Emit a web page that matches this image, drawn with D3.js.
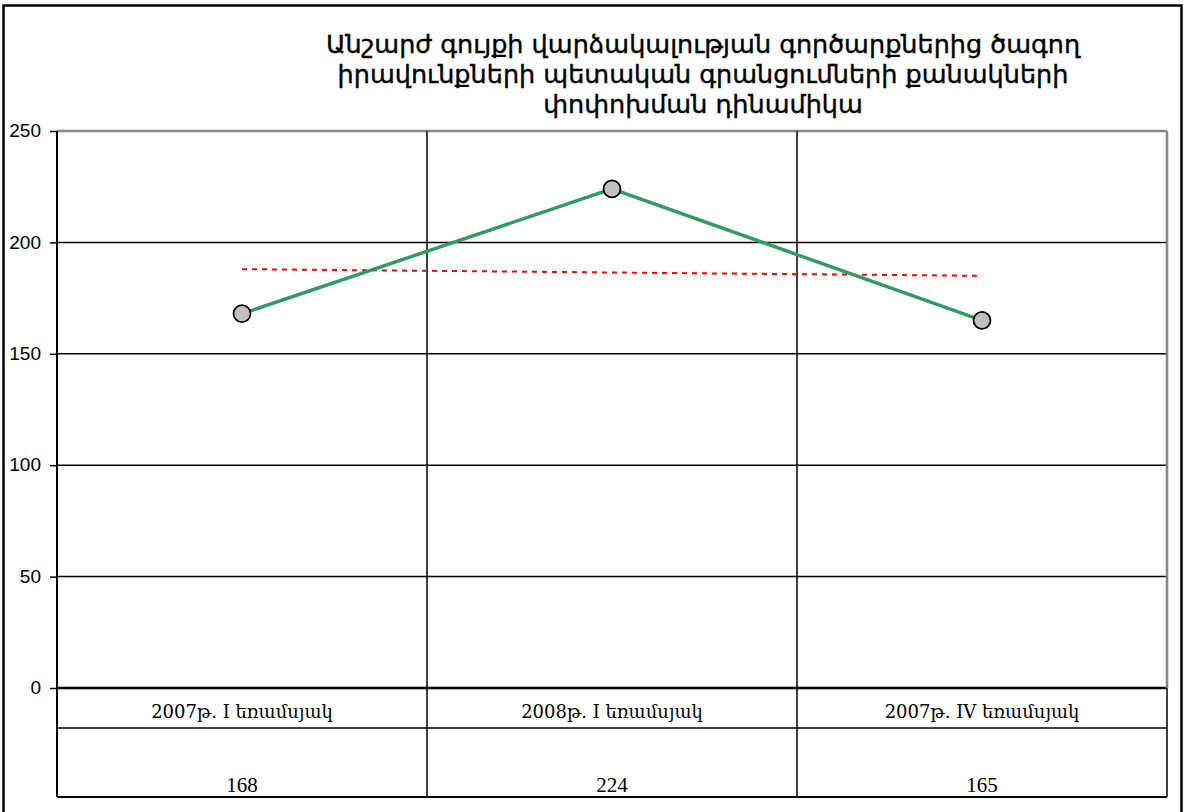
<!DOCTYPE html>
<html><head><meta charset="utf-8">
<script src="https://cdn.jsdelivr.net/npm/d3@7"></script>
<style>body{margin:0;background:#fff}svg{display:block}</style>
</head><body>
<script>
const titleLines = ["Անշարժ գույքի վարձակալության գործարքներից ծագող","իրավունքների պետական գրանցումների քանակների","փոփոխման դինամիկա"];
const categories = ["2007թ. I եռամսյակ","2008թ. I եռամսյակ","2007թ. IV եռամսյակ"];
const values = [168, 224, 165];
const trendValues = [188, 185];
const yTicks = [0, 50, 100, 150, 200, 250];

(function(){
const W = 1184, H = 812;
const svg = d3.select("body").append("svg").attr("width", W).attr("height", H);
const pL = 57, pR = 1167, pT = 131, pB = 688;
const x = d3.scaleBand().domain(categories).range([pL, pR]).padding(0);
const y = d3.scaleLinear().domain([0, 250]).range([pB, pT]);
const cx = d => x(d) + x.bandwidth() / 2;

svg.append("path").attr("d", `M3.5,${H+5}V5.5H1181.5V${H+5}`).attr("fill","none").attr("stroke","#000").attr("stroke-width",2.5);

svg.append("g").selectAll("text").data(titleLines).join("text")
  .attr("x", 703).attr("y", (d,i) => 53 + i*30).attr("text-anchor","middle")
  .attr("font-family","DejaVu Sans, Noto Sans").attr("font-size",25.5).attr("fill","#000")
  .attr("stroke","#000").attr("stroke-width",0.4).text(d => d);

svg.append("g").selectAll("line").data(yTicks).join("line")
  .attr("x1", pL).attr("x2", pR).attr("y1", d => y(d)).attr("y2", d => y(d))
  .attr("stroke", d => d === 250 ? "#888" : "#000").attr("stroke-width", d => d===0 ? 2.5 : (d===250 ? 2.5 : 1.5));
svg.append("line").attr("x1", pR).attr("x2", pR).attr("y1", pT).attr("y2", pB).attr("stroke","#888").attr("stroke-width",2.5);

const yAxis = d3.axisLeft(y).tickValues(yTicks).tickSize(7).tickPadding(9);
const ya = svg.append("g").attr("transform", `translate(${pL},0)`).call(yAxis);
ya.select(".domain").remove();
ya.selectAll("line").attr("stroke","#000").attr("stroke-width",1.5);
ya.selectAll("text").attr("font-family","Liberation Sans, Arial").attr("font-size",19).attr("fill","#000").attr("dy","0.3em");
svg.append("line").attr("x1", pL).attr("x2", pL).attr("y1", pT).attr("y2", 797).attr("stroke","#000").attr("stroke-width",2);

const dividers = categories.slice(1).map(c => x(c));
svg.append("g").selectAll("line").data(dividers).join("line")
  .attr("x1", d=>d).attr("x2", d=>d).attr("y1", pT).attr("y2", 797).attr("stroke","#000").attr("stroke-width",1.5);
svg.append("line").attr("x1", pR).attr("x2", pR).attr("y1", pB).attr("y2", 797).attr("stroke","#000").attr("stroke-width",1.5);

svg.append("line").attr("x1", pL).attr("x2", pR).attr("y1", 728).attr("y2", 728).attr("stroke","#000").attr("stroke-width",1.5);
svg.append("line").attr("x1", pL).attr("x2", pR).attr("y1", 797).attr("y2", 797).attr("stroke","#000").attr("stroke-width",2);
svg.append("g").selectAll("text").data(categories).join("text")
  .attr("x", d => cx(d)).attr("y", 718).attr("text-anchor","middle")
  .attr("font-family","DejaVu Serif, Liberation Serif").attr("font-size",18).attr("fill","#000").text(d => d);
svg.append("g").selectAll("text").data(values).join("text")
  .attr("x", (d,i) => cx(categories[i])).attr("y", 792).attr("text-anchor","middle")
  .attr("font-family","Liberation Serif, Times New Roman").attr("font-size",21).attr("fill","#000").text(d => d);

svg.append("line")
  .attr("x1", cx(categories[0])).attr("x2", cx(categories[categories.length-1]))
  .attr("y1", y(trendValues[0])).attr("y2", y(trendValues[1]))
  .attr("stroke","#ff0000").attr("stroke-width",2).attr("stroke-dasharray","5,5");

const line = d3.line().x((d,i) => cx(categories[i])).y(d => y(d));
svg.append("path").datum(values).attr("d", line).attr("fill","none").attr("stroke","#339966").attr("stroke-width",3.5);
svg.append("g").selectAll("circle").data(values).join("circle")
  .attr("cx", (d,i) => cx(categories[i])).attr("cy", d => y(d)).attr("r", 8.5)
  .attr("fill","#c0c0c0").attr("stroke","#000").attr("stroke-width",1.8);
})();
</script>
</body></html>
